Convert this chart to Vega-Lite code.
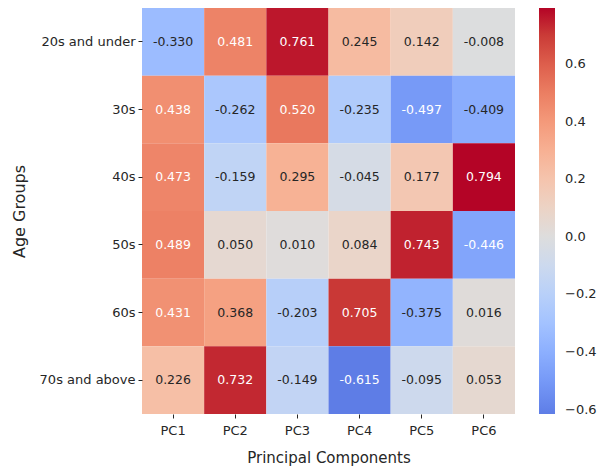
{
  "$schema": "https://vega.github.io/schema/vega-lite/v6.json",
  "width": 373,
  "height": 406,
  "autosize": "none",
  "padding": {"left": 142, "top": 8, "right": 86, "bottom": 60},
  "background": "white",
  "config": {
    "view": {"stroke": null},
    "font": "DejaVu Sans",
    "locale": {"number": {"decimal": ".", "thousands": ",", "grouping": [3], "currency": ["$", ""], "minus": "-"}}
  },
  "data": {
    "values": [
      {"age": "20s and under", "pc": "PC1", "v": -0.330},
      {"age": "20s and under", "pc": "PC2", "v": 0.481},
      {"age": "20s and under", "pc": "PC3", "v": 0.761},
      {"age": "20s and under", "pc": "PC4", "v": 0.245},
      {"age": "20s and under", "pc": "PC5", "v": 0.142},
      {"age": "20s and under", "pc": "PC6", "v": -0.008},
      {"age": "30s", "pc": "PC1", "v": 0.438},
      {"age": "30s", "pc": "PC2", "v": -0.262},
      {"age": "30s", "pc": "PC3", "v": 0.520},
      {"age": "30s", "pc": "PC4", "v": -0.235},
      {"age": "30s", "pc": "PC5", "v": -0.497},
      {"age": "30s", "pc": "PC6", "v": -0.409},
      {"age": "40s", "pc": "PC1", "v": 0.473},
      {"age": "40s", "pc": "PC2", "v": -0.159},
      {"age": "40s", "pc": "PC3", "v": 0.295},
      {"age": "40s", "pc": "PC4", "v": -0.045},
      {"age": "40s", "pc": "PC5", "v": 0.177},
      {"age": "40s", "pc": "PC6", "v": 0.794},
      {"age": "50s", "pc": "PC1", "v": 0.489},
      {"age": "50s", "pc": "PC2", "v": 0.050},
      {"age": "50s", "pc": "PC3", "v": 0.010},
      {"age": "50s", "pc": "PC4", "v": 0.084},
      {"age": "50s", "pc": "PC5", "v": 0.743},
      {"age": "50s", "pc": "PC6", "v": -0.446},
      {"age": "60s", "pc": "PC1", "v": 0.431},
      {"age": "60s", "pc": "PC2", "v": 0.368},
      {"age": "60s", "pc": "PC3", "v": -0.203},
      {"age": "60s", "pc": "PC4", "v": 0.705},
      {"age": "60s", "pc": "PC5", "v": -0.375},
      {"age": "60s", "pc": "PC6", "v": 0.016},
      {"age": "70s and above", "pc": "PC1", "v": 0.226},
      {"age": "70s and above", "pc": "PC2", "v": 0.732},
      {"age": "70s and above", "pc": "PC3", "v": -0.149},
      {"age": "70s and above", "pc": "PC4", "v": -0.615},
      {"age": "70s and above", "pc": "PC5", "v": -0.095},
      {"age": "70s and above", "pc": "PC6", "v": 0.053}
    ]
  },
  "encoding": {
    "x": {
      "field": "pc", "type": "nominal", "sort": null,
      "scale": {"paddingInner": 0, "paddingOuter": 0},
      "axis": {
        "title": "Principal Components", "labelAngle": 0, "domain": false,
        "tickColor": "#262626", "tickSize": 4, "labelPadding": 6,
        "labelFont": "DejaVu Sans", "labelFontSize": 13, "labelColor": "#262626",
        "titleFont": "DejaVu Sans", "titleFontSize": 15, "titleFontWeight": "normal", "titleColor": "#262626", "titlePadding": 13
      }
    },
    "y": {
      "field": "age", "type": "nominal", "sort": null,
      "scale": {"paddingInner": 0, "paddingOuter": 0},
      "axis": {
        "title": "Age Groups", "domain": false,
        "tickColor": "#262626", "tickSize": 4, "labelPadding": 3,
        "labelFont": "DejaVu Sans", "labelFontSize": 13, "labelColor": "#262626",
        "titleFont": "DejaVu Sans", "titleFontSize": 16, "titleFontWeight": "normal", "titleColor": "#262626", "titlePadding": 12
      }
    }
  },
  "layer": [
    {
      "mark": {"type": "rect", "strokeWidth": 0},
      "encoding": {
        "color": {
          "field": "v", "type": "quantitative",
          "scale": {
            "domain": [-0.615, -0.5955, -0.4963, -0.397, -0.2978, -0.1985, -0.0993, 0, 0.0993, 0.1985, 0.2978, 0.397, 0.4963, 0.5955, 0.6948, 0.794],
            "interpolate": "rgb",
            "range": ["#5e7de6", "#6282ea", "#779af7", "#8db0fe", "#a3c2ff", "#b8d0f9", "#ccd9ee", "#dddddd", "#ecd3c5", "#f5c4ad", "#f7b194", "#f49a7b", "#ec7f63", "#de604d", "#cb3e38", "#b40426"]
          },
          "legend": {
            "title": null, "orient": "right", "offset": 24,
            "gradientLength": 406, "gradientThickness": 16,
            "values": [-0.6, -0.4, -0.2, 0.0, 0.2, 0.4, 0.6],
            "format": ".1f",
            "labelExpr": "replace(datum.label, '-', '\u2212')",
            "labelFont": "DejaVu Sans", "labelFontSize": 13, "labelColor": "#262626",
            "labelOffset": 10, "gradientStrokeWidth": 0
          }
        }
      }
    },
    {
      "mark": {"type": "text", "font": "DejaVu Sans", "fontSize": 12.5},
      "encoding": {
        "text": {"field": "v", "type": "quantitative", "format": ".3f"},
        "color": {
          "condition": {"test": "datum.v > 0.4 || datum.v < -0.43", "value": "#ffffff"},
          "value": "#262626"
        }
      }
    }
  ]
}
